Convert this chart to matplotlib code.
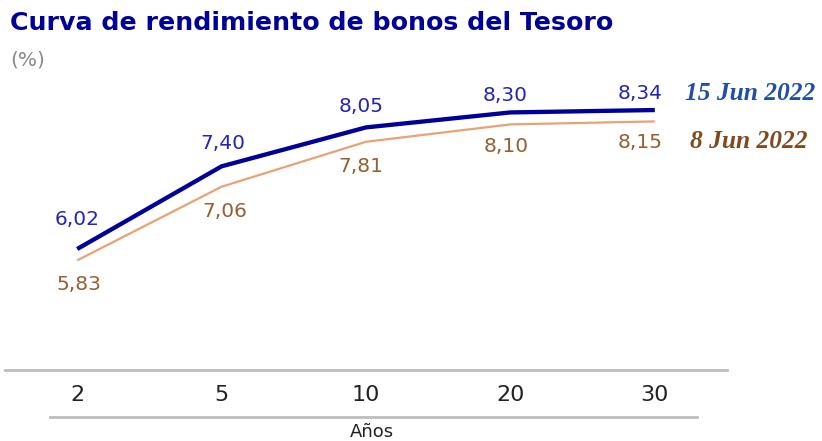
import numpy as np
import matplotlib.pyplot as plt
from matplotlib.lines import Line2D

# Data
plazos = ['2', '5', '10', '20', '30']
curva_15jun = [6.02, 7.40, 8.05, 8.30, 8.34]
curva_8jun = [5.83, 7.06, 7.81, 8.10, 8.15]
serie_15 = '15 Jun 2022'
serie_8 = '8 Jun 2022'

# label offsets in pixels (dx, dy) relative to each point
off_15 = [(0, 30), (1, 23), (-5, 21), (-5, 17), (-15, 17)]
off_8 = [(2, -24), (3, -25), (-5, -25), (-4, -22), (-15, -21)]

azul = '#000099'
azul_txt = '#2424B8'
naranja = '#E9A274'
marron = '#955F2E'
gris = '#BDBDBD'

W, H = 822, 441
fig = plt.figure(figsize=(W / 100, H / 100), dpi=100)

ax = fig.add_axes([5 / W, (H - 370) / H, 722 / W, 299.5 / H])
x = np.arange(len(plazos))
ax.plot(x, curva_8jun, color=naranja, lw=1.6, solid_capstyle='butt')
ax.plot(x, curva_15jun, color=azul, lw=3.1, solid_capstyle='butt')
ax.set_xlim(-0.5, 4.5)
ax.set_ylim(4, 9)

for i, v in enumerate(curva_15jun):
    ax.annotate(f'{v:.2f}'.replace('.', ','), (x[i], v),
                xytext=(off_15[i][0] * 0.72, off_15[i][1] * 0.72), textcoords='offset points',
                ha='center', va='center', color=azul_txt, fontsize=14.5,
                family='DejaVu Sans')
for i, v in enumerate(curva_8jun):
    ax.annotate(f'{v:.2f}'.replace('.', ','), (x[i], v),
                xytext=(off_8[i][0] * 0.72, off_8[i][1] * 0.72), textcoords='offset points',
                ha='center', va='center', color=marron, fontsize=14.5,
                family='DejaVu Sans')

for s in ['top', 'right', 'left']:
    ax.spines[s].set_visible(False)
ax.spines['bottom'].set_color(gris)
ax.spines['bottom'].set_linewidth(2)
ax.set_yticks([])
ax.set_xticks(x)
ax.set_xticklabels(plazos, family='DejaVu Sans', fontsize=16, color='#222222')
ax.tick_params(axis='x', length=0, pad=11)

# second rule under the tick labels
fig.add_artist(Line2D([50 / W, 697 / W], [(H - 417) / H] * 2, color=gris, lw=2))

fig.text(372 / W, (H - 432) / H, 'Años', ha='center', va='center',
         family='DejaVu Sans', fontsize=13, color='#222222')

fig.text(10 / W, (H - 23) / H, 'Curva de rendimiento de bonos del Tesoro',
         ha='left', va='center', color=azul, fontsize=18.2, fontweight='bold',
         family='DejaVu Sans')
fig.text(10 / W, (H - 60) / H, '(%)', ha='left', va='center', color='#888888',
         fontsize=14.5, family='DejaVu Sans')

fig.text(685 / W, (H - 94) / H, serie_15, ha='left', va='center', color='#1F4FA8',
         fontsize=18.4, fontweight='bold', style='italic', family='Liberation Serif')
fig.text(690 / W, (H - 142) / H, serie_8, ha='left', va='center', color='#7E4A1E',
         fontsize=18.4, fontweight='bold', style='italic', family='Liberation Serif')

fig.savefig('out.png', dpi=100)
